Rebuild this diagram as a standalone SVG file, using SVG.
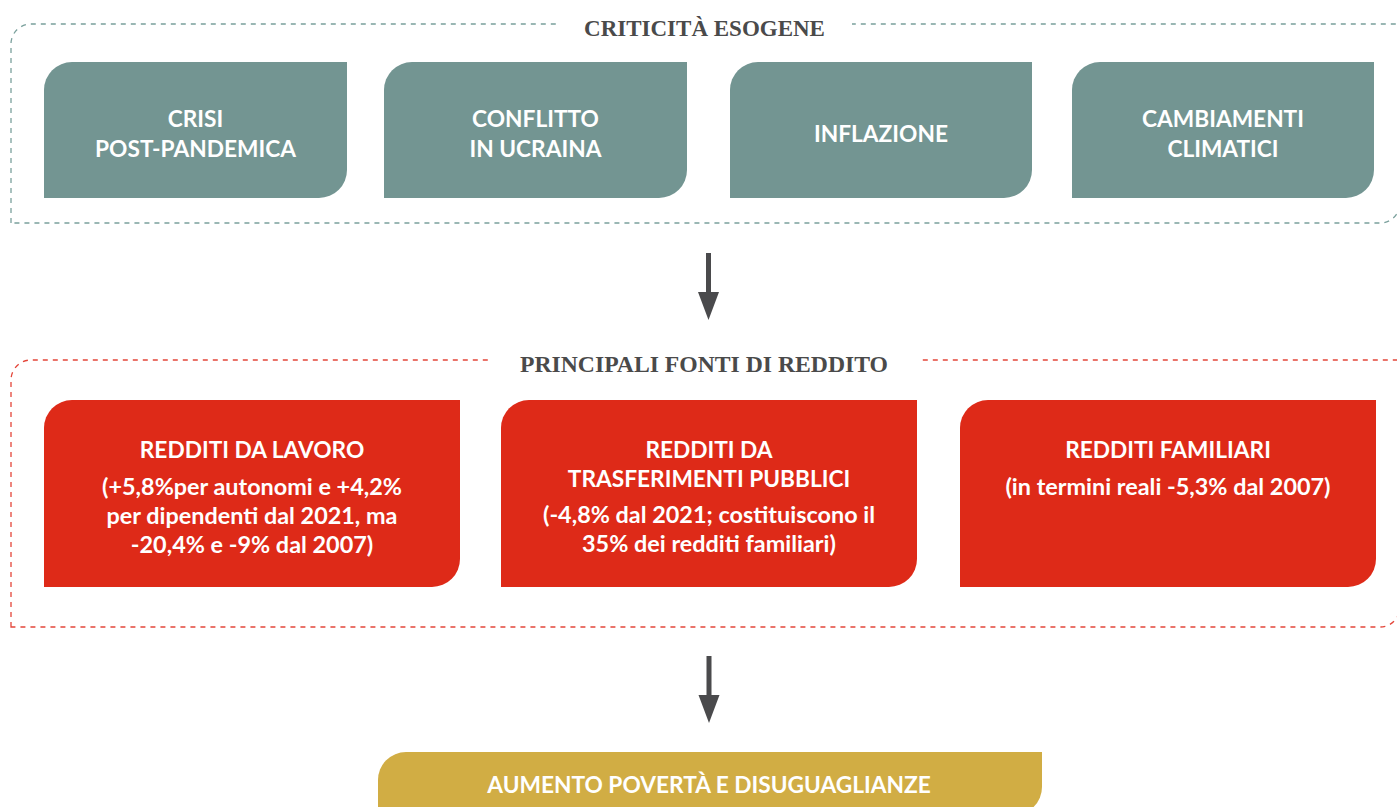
<svg xmlns="http://www.w3.org/2000/svg" width="1397" height="807" viewBox="0 0 1397 807">
<style>
.bg{fill:#ffffff}
.teal{fill:#739592}
.red{fill:#de2a18}
.gold{fill:#d1ad44}
.frame-t{fill:none;stroke:#7aa09c;stroke-width:1.3;stroke-dasharray:5 5}
.frame-r{fill:none;stroke:#e4463a;stroke-width:1.3;stroke-dasharray:5 5}
.title{font-family:"Liberation Serif","Times New Roman",serif;font-weight:bold;font-size:23px;fill:#4a4a4a;text-anchor:middle}
.lbl{font-family:Lato,"Open Sans",sans-serif;font-weight:bold;font-size:22.7px;fill:#ffffff;text-anchor:middle}
.sub{font-size:23.4px}
.arrow{fill:#4a4a4c}
</style>
<rect class="bg" x="0" y="0" width="1397" height="807"/>

<g id="frame-criticita">
  <path class="frame-t" d="M11,223 V44 A20,20 0 0 1 31,24 H1400 V203 A20,20 0 0 1 1380,223 Z"/>
  <rect class="bg" x="558" y="14" width="294" height="20"/>
  <text class="title" x="704.5" y="36">CRITICITÀ ESOGENE</text>
</g>

<g id="node-crisi">
  <path class="teal" d="M44,90 A28,28 0 0 1 72,62 H347 V170 A28,28 0 0 1 319,198 H44 Z"/>
  <text class="lbl" x="195.5" y="127">CRISI</text>
  <text class="lbl" x="195.5" y="157">POST-PANDEMICA</text>
</g>
<g id="node-conflitto">
  <path class="teal" d="M384,90 A28,28 0 0 1 412,62 H687 V170 A28,28 0 0 1 659,198 H384 Z"/>
  <text class="lbl" x="535.5" y="127">CONFLITTO</text>
  <text class="lbl" x="535.5" y="157">IN UCRAINA</text>
</g>
<g id="node-inflazione">
  <path class="teal" d="M730,90 A28,28 0 0 1 758,62 H1032 V170 A28,28 0 0 1 1004,198 H730 Z"/>
  <text class="lbl" x="881" y="142">INFLAZIONE</text>
</g>
<g id="node-cambiamenti">
  <path class="teal" d="M1072,90 A28,28 0 0 1 1100,62 H1374 V170 A28,28 0 0 1 1346,198 H1072 Z"/>
  <text class="lbl" x="1223" y="127">CAMBIAMENTI</text>
  <text class="lbl" x="1223" y="157">CLIMATICI</text>
</g>

<g id="frame-fonti">
  <path class="frame-r" d="M11,627 V380 A20,20 0 0 1 31,360 H1400 V607 A20,20 0 0 1 1380,627 Z"/>
  <rect class="bg" x="490" y="350" width="428" height="20"/>
  <text class="title" x="704" y="372" textLength="368" lengthAdjust="spacingAndGlyphs">PRINCIPALI FONTI DI REDDITO</text>
</g>

<g id="node-lavoro">
  <path class="red" d="M44,428 A28,28 0 0 1 72,400 H460 V559 A28,28 0 0 1 432,587 H44 Z"/>
  <text class="lbl" x="252" y="458">REDDITI DA LAVORO</text>
  <text class="lbl sub" x="252" y="495">(+5,8%per autonomi e +4,2%</text>
  <text class="lbl sub" x="252" y="524">per dipendenti dal 2021, ma</text>
  <text class="lbl sub" x="252" y="553">-20,4% e -9% dal 2007)</text>
</g>
<g id="node-trasferimenti">
  <path class="red" d="M501,428 A28,28 0 0 1 529,400 H917 V559 A28,28 0 0 1 889,587 H501 Z"/>
  <text class="lbl" x="709" y="458">REDDITI DA</text>
  <text class="lbl" x="709" y="487">TRASFERIMENTI PUBBLICI</text>
  <text class="lbl sub" x="709" y="523">(-4,8% dal 2021; costituiscono il</text>
  <text class="lbl sub" x="709" y="552">35% dei redditi familiari)</text>
</g>
<g id="node-familiari">
  <path class="red" d="M960,428 A28,28 0 0 1 988,400 H1376 V559 A28,28 0 0 1 1348,587 H960 Z"/>
  <text class="lbl" x="1168" y="458">REDDITI FAMILIARI</text>
  <text class="lbl sub" x="1168" y="495">(in termini reali -5,3% dal 2007)</text>
</g>

<g id="node-aumento">
  <path class="gold" d="M378,780 A28,28 0 0 1 406,752 H1042 V787 A28,28 0 0 1 1014,815 H378 Z"/>
  <text class="lbl" x="709" y="793">AUMENTO POVERTÀ E DISUGUAGLIANZE</text>
</g>

<g id="connectors">
  <path class="arrow" d="M706,253 H711 V292 H719 L708.5,320 L698,292 H706 Z"/>
  <path class="arrow" d="M706.5,656 H711.5 V695 H719.5 L709,723 L698.5,695 H706.5 Z"/>
</g>
</svg>
